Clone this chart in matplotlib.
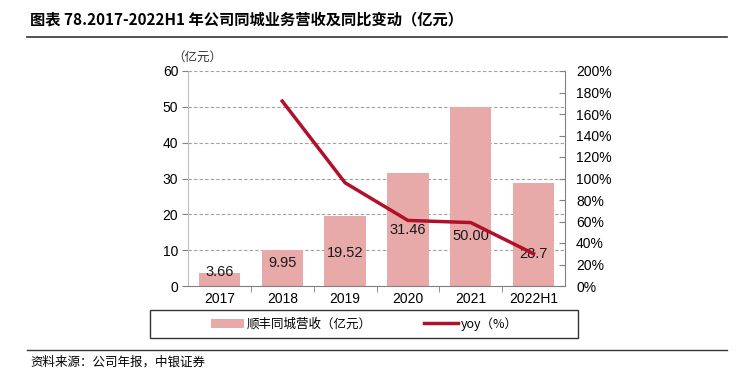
import matplotlib
matplotlib.use("Agg")
import matplotlib.pyplot as plt
from matplotlib.lines import Line2D
from matplotlib.patches import Patch, Rectangle

plt.rcParams['font.family'] = ['Liberation Sans', 'Noto Sans CJK SC', 'DejaVu Sans']

categories = ['2017', '2018', '2019', '2020', '2021', '2022H1']
revenue = [3.66, 9.95, 19.52, 31.46, 50.00, 28.7]
revenue_labels = ['3.66', '9.95', '19.52', '31.46', '50.00', '28.7']
yoy = [None, 172, 96, 61, 59, 30]
left_ticks = [0, 10, 20, 30, 40, 50, 60]
right_ticks = [0, 20, 40, 60, 80, 100, 120, 140, 160, 180, 200]

bar_color = '#E8A9A9'
line_color = '#B0102A'

fig = plt.figure(figsize=(7.39, 3.81), dpi=100)
W, H = 739, 381
ax = fig.add_axes([188 / W, 1 - 286 / H, (565 - 188) / W, (286 - 71) / H])
x = list(range(len(categories)))
ax.bar(x, revenue, width=0.66, color=bar_color, zorder=2)
ax.set_xlim(-0.5, len(categories) - 0.5)
ax.set_ylim(0, 60)
ax.set_yticks(left_ticks)
ax.set_yticklabels([str(t) for t in left_ticks], fontsize=10)
ax.yaxis.grid(True, linestyle=(0, (3, 2)), color='#A0A0A0', linewidth=0.8, zorder=0)
ax.set_axisbelow(True)
ax.set_xticks(x)
ax.set_xticklabels(categories, fontsize=10)
ax.tick_params(axis='x', length=0, pad=4)
ax.set_xticks([i + 0.5 for i in x[:-1]], minor=True)
ax.tick_params(axis='x', which='minor', length=4, color='#808080')
ax.tick_params(axis='y', length=4, color='#808080', pad=3)
for s in ['top', 'right']:
    ax.spines[s].set_visible(False)
ax.spines['left'].set_color('#BFBFBF')
ax.spines['bottom'].set_color('#808080')

# value labels drawn inside the bars (heights in data units)
label_heights = [4.0, 6.5, 9.2, 15.5, 13.9, 9.0]
for i, (lab, yh) in enumerate(zip(revenue_labels, label_heights)):
    ax.text(i, yh, lab, ha='center', va='center', fontsize=10.5, color='#1a1a1a', zorder=5)

ax2 = ax.twinx()
ax2.set_ylim(0, 200)
ax2.set_yticks(right_ticks)
ax2.set_yticklabels([f'{t}%' for t in right_ticks], fontsize=10)
xs = [i for i, v in zip(x, yoy) if v is not None]
ys = [v for v in yoy if v is not None]
ax2.plot(xs, ys, color=line_color, linewidth=2.5, zorder=3)
for s in ['top', 'left', 'bottom']:
    ax2.spines[s].set_visible(False)
ax2.spines['right'].set_color('#808080')
ax2.tick_params(axis='y', direction='in', length=4, color='#808080', pad=8)

fig.text(172 / W, 1 - 57 / H, '（亿元）', fontsize=9, ha='left', va='center', color='#333333',
         family=['Noto Sans CJK SC'])

# title
fig.text(30 / W, 1 - 19 / H, '图表 78.2017-2022H1 年公司同城业务营收及同比变动（亿元）', fontsize=11,
         fontweight='bold', ha='left', va='center', family=['Noto Sans CJK SC'])
fig.add_artist(Line2D([27 / W, 727 / W], [1 - 37 / H, 1 - 37 / H], color='#333333', linewidth=1.2))
fig.add_artist(Line2D([27 / W, 727 / W], [1 - 350 / H, 1 - 350 / H], color='#333333', linewidth=1.0))
fig.text(30 / W, 1 - 362 / H, '资料来源：公司年报，中银证券', fontsize=9, style='italic',
         ha='left', va='center', family=['Noto Sans CJK SC'])

# legend box
fig.add_artist(Rectangle((150 / W, 1 - 338 / H), (578 - 150) / W, 28 / H, transform=fig.transFigure,
                         facecolor='white', edgecolor='#333333', linewidth=1.0))
handles = [Patch(facecolor=bar_color, edgecolor='none'),
           Line2D([], [], color=line_color, linewidth=2.5)]
leg = fig.legend(handles, ['顺丰同城营收（亿元）', 'yoy（%）'], loc='center',
                 bbox_to_anchor=(364 / W, 1 - 324 / H), ncol=2, frameon=False,
                 prop={'family': ['Noto Sans CJK SC'], 'size': 9}, columnspacing=4.2,
                 handlelength=2.7, handletextpad=0.2, borderpad=0.3)

fig.savefig('out.png', dpi=100)
